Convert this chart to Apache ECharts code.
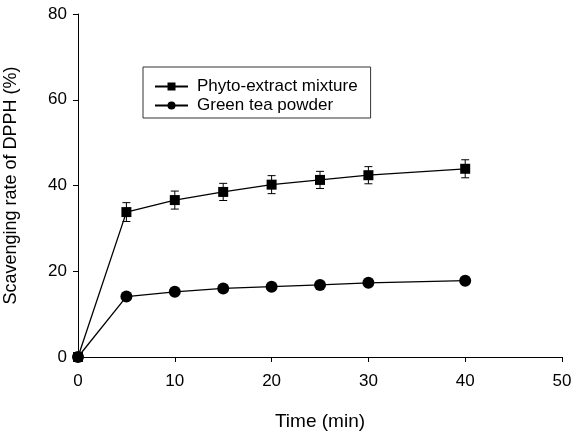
<!DOCTYPE html>
<html>
<head>
<meta charset="utf-8">
<script src="https://cdn.jsdelivr.net/npm/echarts@6/dist/echarts.min.js"></script>
<style>
html,body{margin:0;padding:0;background:#fff;}
#chart{width:574px;height:434px;}
</style>
</head>
<body>
<div id="chart"></div>
<script>
// time points (min)
var times = [0, 5, 10, 15, 20, 25, 30, 40];
var phytoVals = [0, 33.8, 36.6, 38.5, 40.2, 41.3, 42.4, 43.9];
var phytoErr = [0, 2.2, 2.1, 2.0, 2.1, 2.0, 2.0, 2.1];
var teaVals = [0, 14.1, 15.2, 16.0, 16.4, 16.8, 17.3, 17.8];
var xTicks = [0, 10, 20, 30, 40, 50];
var yTicks = [0, 20, 40, 60, 80];

var fontName = 'Liberation Sans';

function pairs(xs, ys) {
    var out = [];
    for (var i = 0; i < xs.length; i++) {
        out.push([xs[i], ys[i]]);
    }
    return out;
}
var errData = [];
for (var i = 0; i < times.length; i++) {
    if (phytoErr[i] > 0) errData.push([times[i], phytoVals[i] - phytoErr[i], phytoVals[i] + phytoErr[i]]);
}

var myChart = echarts.init(document.getElementById('chart'));
var option = {
    animation: false,
    textStyle: {fontFamily: fontName, color: '#000'},
    grid: {left: 78, right: 12, top: 14, bottom: 77, containLabel: false, outerBoundsMode: 'none'},
    legend: {
        orient: 'vertical',
        left: 143,
        top: 67,
        padding: [11, 13, 4, 11],
        itemGap: 2,
        itemWidth: 33,
        itemHeight: 10,
        borderColor: '#333',
        borderWidth: 1,
        textStyle: {fontFamily: fontName, fontSize: 17, color: '#000', padding: [0, 0, 0, 4]},
        data: ['Phyto-extract mixture', 'Green tea powder']
    },
    xAxis: {
        type: 'value',
        min: 0, max: 50, interval: 10,
        name: 'Time (min)',
        nameLocation: 'middle',
        nameGap: 55,
        nameTextStyle: {fontSize: 19, color: '#000'},
        axisLine: {lineStyle: {color: '#000', width: 1}},
        axisTick: {show: true, length: 5, lineStyle: {color: '#000'}},
        axisLabel: {fontSize: 17, color: '#000', margin: 16},
        splitLine: {show: false}
    },
    yAxis: {
        type: 'value',
        min: 0, max: 80, interval: 20,
        name: 'Scavenging rate of DPPH (%)',
        nameLocation: 'middle',
        nameGap: 58,
        nameTextStyle: {fontSize: 18, color: '#000'},
        axisLine: {show: true, lineStyle: {color: '#000', width: 1}},
        axisTick: {show: true, length: 5, lineStyle: {color: '#000'}},
        axisLabel: {fontSize: 17, color: '#000', margin: 11},
        splitLine: {show: false}
    },
    series: [
        {
            name: 'Phyto-extract mixture',
            type: 'line',
            data: pairs(times, phytoVals),
            symbol: 'rect',
            symbolSize: 10,
            lineStyle: {color: '#000', width: 1.3},
            itemStyle: {color: '#000'},
            z: 3
        },
        {
            name: 'Green tea powder',
            type: 'line',
            data: pairs(times, teaVals),
            symbol: 'circle',
            symbolSize: 12,
            lineStyle: {color: '#000', width: 1.3},
            itemStyle: {color: '#000'},
            z: 3
        },
        {
            type: 'custom',
            data: errData,
            z: 2,
            renderItem: function (params, api) {
                var lo = api.coord([api.value(0), api.value(1)]);
                var hi = api.coord([api.value(0), api.value(2)]);
                var w = 4;
                var st = {stroke: '#000', lineWidth: 1};
                return {
                    type: 'group',
                    children: [
                        {type: 'line', shape: {x1: lo[0], y1: lo[1], x2: hi[0], y2: hi[1]}, style: st},
                        {type: 'line', shape: {x1: lo[0] - w, y1: lo[1], x2: lo[0] + w, y2: lo[1]}, style: st},
                        {type: 'line', shape: {x1: hi[0] - w, y1: hi[1], x2: hi[0] + w, y2: hi[1]}, style: st}
                    ]
                };
            }
        }
    ]
};
myChart.setOption(option);
</script>
</body>
</html>
